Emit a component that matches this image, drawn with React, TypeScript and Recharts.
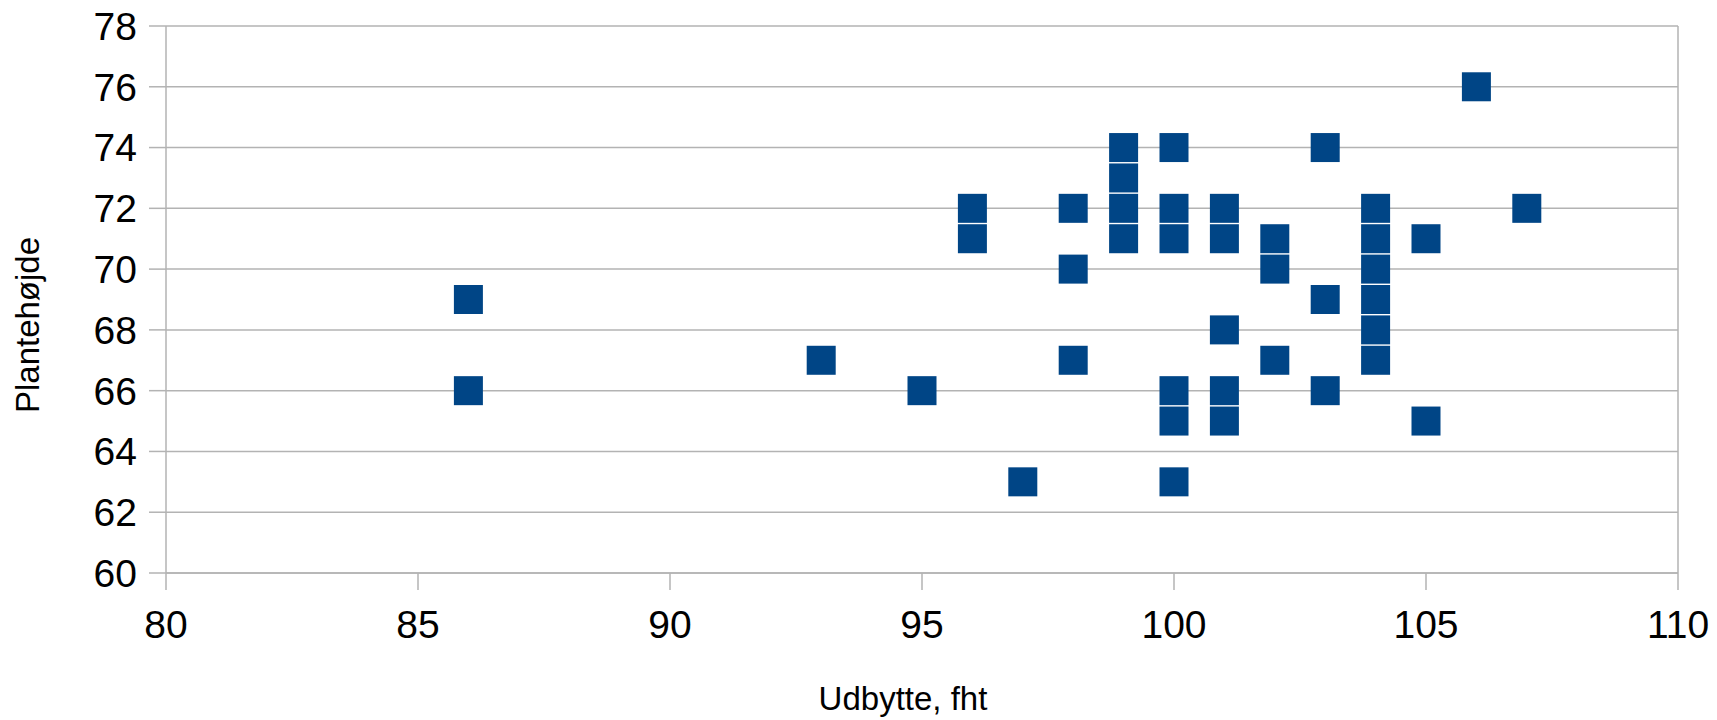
import React from 'react';
import { ScatterChart, Scatter, XAxis, YAxis, CartesianGrid, ReferenceLine } from 'recharts';

document.body.style.margin = '0';

// Udbytte (fht) and plantehøjde, one pair per plot
const udbytte = [
  86, 86, 93, 95, 96, 96, 97, 98, 98, 98,
  99, 99, 99, 99, 100, 100, 100, 100, 100, 100,
  101, 101, 101, 101, 101, 102, 102, 102, 103, 103,
  103, 104, 104, 104, 104, 104, 104, 105, 105, 106, 107,
];
const plantehojde = [
  69, 66, 67, 66, 72, 71, 63, 72, 70, 67,
  74, 73, 72, 71, 74, 72, 71, 66, 65, 63,
  72, 71, 68, 66, 65, 71, 70, 67, 74, 69,
  66, 72, 71, 70, 69, 68, 67, 71, 65, 76, 72,
];

const xTicks = [80, 85, 90, 95, 100, 105, 110];
const yTicks = [60, 62, 64, 66, 68, 70, 72, 74, 76, 78];

const points = udbytte.map((x, i) => ({ x, y: plantehojde[i] }));

const GRID = '#b3b3b3';
const BLUE = '#004586';
const FONT = '"Liberation Sans", Arial, sans-serif';

const Square = (props: any) => {
  const { cx, cy } = props;
  return <rect x={cx - 14.5} y={cy - 14.5} width={29} height={29} fill={BLUE} />;
};

export default function App() {
  return (
    <div style={{ width: 1717, height: 720, background: '#fff', fontFamily: FONT }}>
      <ScatterChart width={1717} height={720} margin={{ top: 26, right: 39, left: 0, bottom: 0 }}>
        <CartesianGrid vertical={false} stroke={GRID} strokeWidth={1.5} />
        <XAxis
          type="number"
          dataKey="x"
          domain={[80, 110]}
          ticks={xTicks}
          interval={0}
          height={147}
          tickSize={17}
          tickMargin={20}
          stroke={GRID}
          strokeWidth={1.5}
          tick={{ fontSize: 39, fill: '#000', fontFamily: FONT }}
          label={{
            content: () => (
              <text x={903} y={710} textAnchor="middle" fontSize={33} fontFamily={FONT} fill="#000">
                Udbytte, fht
              </text>
            ),
          }}
        />
        <YAxis
          type="number"
          dataKey="y"
          domain={[60, 78]}
          ticks={yTicks}
          interval={0}
          width={166}
          tickSize={17}
          tickMargin={12}
          stroke={GRID}
          strokeWidth={1.5}
          tick={{ fontSize: 39, fill: '#000', fontFamily: FONT }}
          label={{
            content: () => (
              <text
                x={39}
                y={325}
                transform="rotate(-90, 39, 325)"
                textAnchor="middle"
                fontSize={33}
                fontFamily={FONT}
                fill="#000"
              >
                Plantehøjde
              </text>
            ),
          }}
        />
        <ReferenceLine x={110} stroke={GRID} strokeWidth={1.5} />
        <Scatter data={points} shape={Square} isAnimationActive={false} />
      </ScatterChart>
    </div>
  );
}
